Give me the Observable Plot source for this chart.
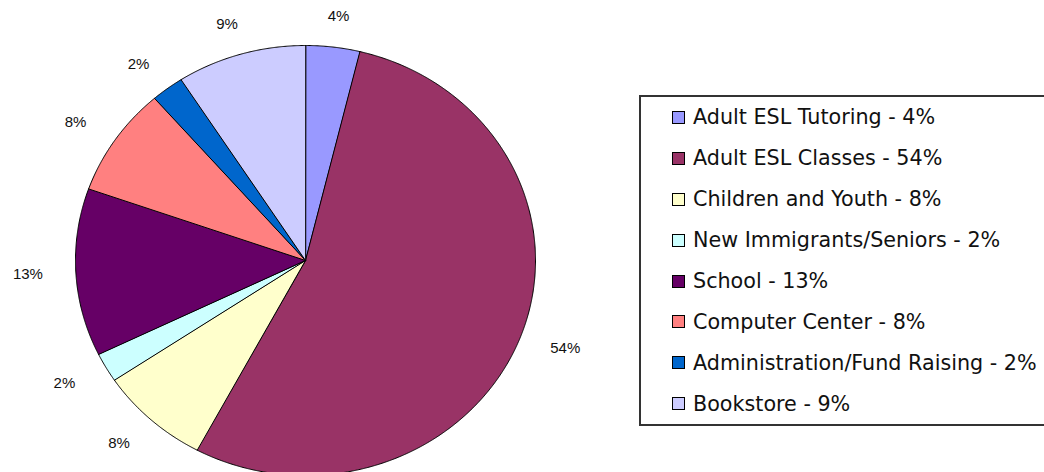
<!DOCTYPE html>
<html>
<head>
<meta charset="utf-8">
<script src="https://cdn.jsdelivr.net/npm/d3@7"></script>
<script src="https://cdn.jsdelivr.net/npm/@observablehq/plot@0.6"></script>
<style>
  html, body { margin: 0; padding: 0; background: #fff; overflow: hidden; }
  #wrap { position: relative; width: 1044px; height: 472px; overflow: hidden; }
  #legend {
    position: absolute; left: 639px; top: 95px; width: 440px; height: 327px;
    border: 2px solid #333; background: #fff;
    font-family: "DejaVu Sans", Verdana, sans-serif; font-size: 20.7px; color: #111;
  }
  .row { display: flex; align-items: center; height: 40.9px; }
  .sw { width: 11px; height: 11px; border: 1px solid #000; margin-left: 31px; margin-right: 8px; flex: none; }
</style>
</head>
<body>
<div id="wrap"><div id="chart"></div><div id="legend"></div></div>
<script>
const names = ["Adult ESL Tutoring", "Adult ESL Classes", "Children and Youth", "New Immigrants/Seniors", "School", "Computer Center", "Administration/Fund Raising", "Bookstore"];
const values = [3.8, 54.0, 7.8, 2.2, 12.6, 8.2, 2.3, 9.1];
const colors = ["#9999FF", "#993366", "#FFFFCC", "#CCFFFF", "#660066", "#FF8080", "#0066CC", "#CCCCFF"];

const rx = 230, ry = 215, cx = 305, cy = 260;
const gapX = 48, gapY = 31;

const arcs = d3.pie().sort(null).value(d => d)(values);
const pts = [];
const labels = [];
arcs.forEach((a, i) => {
  pts.push({name: names[i], color: colors[i], x: 0, y: 0});
  const n = Math.max(4, Math.ceil((a.endAngle - a.startAngle) / 0.005));
  for (let k = 0; k <= n; k++) {
    const t = a.startAngle + (a.endAngle - a.startAngle) * k / n;
    pts.push({name: names[i], color: colors[i], x: Math.sin(t), y: Math.cos(t)});
  }
  const m = (a.startAngle + a.endAngle) / 2;
  labels.push({
    x: Math.sin(m) * (rx + gapX) / rx,
    y: Math.cos(m) * (ry + gapY) / ry,
    text: Math.round(values[i]) + "%"
  });
});

const chart = Plot.plot({
  width: 1044, height: 472, margin: 0,
  x: {domain: [-1, 1], range: [cx - rx, cx + rx], axis: null},
  y: {domain: [-1, 1], range: [cy + ry, cy - ry], axis: null},
  color: {type: "identity"},
  style: {background: "#fff"},
  marks: [
    Plot.line(pts, {x: "x", y: "y", z: "name", fill: "color", stroke: "#000", strokeWidth: 1, curve: "linear-closed"}),
    Plot.text(labels, {x: "x", y: "y", text: "text", fontSize: 15, fontFamily: "Liberation Sans, Arial, sans-serif", fill: "#111"})
  ]
});
document.getElementById("chart").appendChild(chart);

const legend = document.getElementById("legend");
names.forEach((n, i) => {
  const row = document.createElement("div");
  row.className = "row";
  const sw = document.createElement("span");
  sw.className = "sw";
  sw.style.background = colors[i];
  const tx = document.createElement("span");
  tx.textContent = n + " - " + Math.round(values[i]) + "%";
  row.appendChild(sw); row.appendChild(tx);
  legend.appendChild(row);
});
</script>
</body>
</html>
